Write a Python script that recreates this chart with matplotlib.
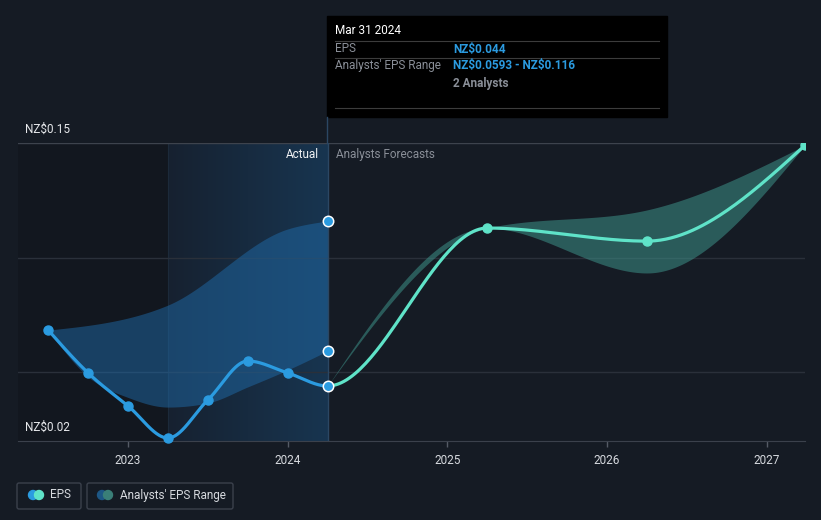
import matplotlib
matplotlib.use("Agg")
import matplotlib.pyplot as plt
from matplotlib.patches import Rectangle, FancyBboxPatch, Circle
from matplotlib.colors import LinearSegmentedColormap
import numpy as np

plt.rcParams["font.family"] = ["Roboto", "DejaVu Sans"]

# EPS (actual + forecast), x in fractional years
eps_x = [2022.5, 2022.75, 2023.0, 2023.25, 2023.5, 2023.75, 2024.0, 2024.25, 2025.25, 2026.25, 2027.24]
eps_y = [0.0684, 0.0497, 0.0353, 0.0213, 0.0379, 0.0549, 0.0497, 0.044, 0.1129, 0.1072, 0.149]
n_actual = 8

# analysts' range over the actual period
past_hi_x = [2022.5, 2023.25, 2024.0, 2024.25]
past_hi = [0.0684, 0.0793, 0.1125, 0.116]
past_lo_x = [2022.5, 2022.75, 2023.0, 2023.25, 2023.5, 2023.75, 2024.0, 2024.25]
past_lo = [0.0684, 0.048, 0.039, 0.0348, 0.0366, 0.0436, 0.051, 0.0593]

# analysts' range over the forecast period
fc_rng_x = [2024.25, 2025.25, 2026.25, 2027.24]
fc_hi = [0.044, 0.1129, 0.1208, 0.149]
fc_lo = [0.044, 0.1129, 0.0933, 0.149]

year_ticks = [2023, 2024, 2025, 2026, 2027]
y_labels = {0.15: r"NZ\$0.15", 0.02: r"NZ\$0.02"}

BG = "#151b24"
BLUE = "#2b9be0"
MINT = "#5fe3c8"


def monotone_x(xs, ys, n=60):
    # d3 curveMonotoneX
    xs = np.asarray(xs, float)
    ys = np.asarray(ys, float)
    k = len(xs)
    t = np.zeros(k)
    for i in range(1, k - 1):
        h0, h1 = xs[i] - xs[i - 1], xs[i + 1] - xs[i]
        s0, s1 = (ys[i] - ys[i - 1]) / h0, (ys[i + 1] - ys[i]) / h1
        p = (s0 * h1 + s1 * h0) / (h0 + h1)
        t[i] = (np.sign(s0) + np.sign(s1)) * min(abs(s0), abs(s1), 0.5 * abs(p))
    if k > 2:
        t[0] = (3 * (ys[1] - ys[0]) / (xs[1] - xs[0]) - t[1]) / 2
        t[-1] = (3 * (ys[-1] - ys[-2]) / (xs[-1] - xs[-2]) - t[-2]) / 2
    else:
        t[:] = (ys[1] - ys[0]) / (xs[1] - xs[0])
    out_x, out_y = [], []
    for i in range(k - 1):
        x0, x1, y0, y1 = xs[i], xs[i + 1], ys[i], ys[i + 1]
        dx = (x1 - x0) / 3
        c0, c1 = y0 + dx * t[i], y1 - dx * t[i + 1]
        u = np.linspace(0, 1, n)
        out_x.append(x0 + u * (x1 - x0))
        out_y.append((1 - u) ** 3 * y0 + 3 * (1 - u) ** 2 * u * c0 + 3 * (1 - u) * u ** 2 * c1 + u ** 3 * y1)
    return np.concatenate(out_x), np.concatenate(out_y)


fig = plt.figure(figsize=(8.21, 5.2), dpi=100, facecolor=BG)
W, H = 821, 520
ax = fig.add_axes([18 / W, 1 - 441 / H, 787 / W, 298 / H])
ax.set_facecolor(BG)
ax.set_xlim(2022.311, 2027.24)
ax.set_ylim(0.02, 0.15)

# background shading
ax.axvspan(2022.311, 2023.25, color="#12171f", zorder=0)
grad = np.linspace(0, 1, 256).reshape(1, -1)
cmap = LinearSegmentedColormap.from_list("hl", ["#162130", "#183550"])
ax.imshow(grad, extent=[2023.25, 2024.25, 0.02, 0.15], aspect="auto", cmap=cmap, zorder=0.5)
ax.axvline(2023.25, color="#1c2a3a", lw=0.8, zorder=0.6)

# grid
for v in [0.05, 0.10]:
    ax.axhline(v, color="#2a303a", lw=1, zorder=1)
ax.axhline(0.15, color="#3d434d", lw=1, zorder=1)

# bands
common_x = np.linspace(past_lo_x[0], past_lo_x[-1], 400)
hx_, hy_ = monotone_x(past_hi_x, past_hi)
lx_, ly_ = monotone_x(past_lo_x, past_lo)
bh = np.interp(common_x, hx_, hy_)
bl = np.interp(common_x, lx_, ly_)
ax.fill_between(common_x, bl, bh, color="#1f6aa8", alpha=0.5, lw=0, zorder=2)
fx, fh = monotone_x(fc_rng_x, fc_hi)
_, fl = monotone_x(fc_rng_x, fc_lo)
ax.fill_between(fx, fl, fh, color="#3d9088", alpha=0.55, lw=0, zorder=2)

# EPS line
n = 60
lx, ly = monotone_x(eps_x, eps_y, n)
split = (n_actual - 1) * n
ax.plot(lx[:split], ly[:split], color=BLUE, lw=2.3, zorder=4, solid_capstyle="round", clip_on=False)
ax.plot(lx[split - 1:], ly[split - 1:], color=MINT, lw=2.3, zorder=4, solid_capstyle="round")
ax.plot(eps_x[:n_actual - 1], eps_y[:n_actual - 1], "o", color=BLUE, ms=6.5, zorder=5, clip_on=False)
ax.plot(eps_x[n_actual:], eps_y[n_actual:], "o", color=MINT, ms=6.5, zorder=5)

# hover markers at Mar 31 2024
ax.axvline(eps_x[n_actual - 1], color="#2b4763", lw=1, zorder=3)
hx = [eps_x[n_actual - 1]] * 3
hy = [eps_y[n_actual - 1], past_hi[-1], past_lo[-1]]
ax.plot(hx, hy, "o", color=BLUE, mec="white", mew=1.1, ms=7.5, zorder=6, clip_on=False)

# axes styling
for s in ["top", "right", "left"]:
    ax.spines[s].set_visible(False)
ax.spines["bottom"].set_color("#3b414c")
ax.set_yticks([])
ax.set_xticks(year_ticks)
ax.set_xticklabels([str(y) for y in year_ticks])
ax.tick_params(axis="x", colors="#555b66", length=4, width=1, labelcolor="#d6d9de", labelsize=8.5, pad=5)

for v, lab in y_labels.items():
    ax.annotate(lab, xy=(0.009, v), xycoords=("axes fraction", "data"), xytext=(0, 5),
                textcoords="offset points", color="#e6e8eb", fontsize=8.5, va="bottom", ha="left")

ax.annotate("Actual", xy=(eps_x[n_actual - 1], 0.15), xytext=(-6, -8), textcoords="offset points",
            color="#f0f2f4", fontsize=8.5, ha="right", va="center")
ax.annotate("Analysts Forecasts", xy=(eps_x[n_actual - 1], 0.15), xytext=(6, -8), textcoords="offset points",
            color="#8a8f98", fontsize=8.5, ha="left", va="center")

# overlay for tooltip and legend (pixel coordinates)
ui = fig.add_axes([0, 0, 1, 1], zorder=10)
ui.set_xlim(0, W)
ui.set_ylim(H, 0)
ui.axis("off")
ui.patch.set_alpha(0)

ui.add_patch(Rectangle((327, 16), 340, 101, color="#000000"))
ui.plot([327, 327], [117, 143], color="#2b4763", lw=1)
for yy in [41, 58, 108]:
    ui.plot([335, 659], [yy, yy], color="#3c3c3c", lw=0.8)
ui.text(335, 31, "Mar 31 2024", color="white", fontsize=8.5, va="center")
ui.text(335, 49, "EPS", color="#8a8f98", fontsize=8.5, va="center")
ui.text(453, 49, r"NZ\$0.044", color=BLUE, fontsize=8.5, va="center", fontweight="bold")
ui.text(335, 66, "Analysts' EPS Range", color="#8a8f98", fontsize=8.5, va="center")
ui.text(453, 66, r"NZ\$0.0593 - NZ\$0.116", color=BLUE, fontsize=8.5, va="center", fontweight="bold")
ui.text(453, 83, "2 Analysts", color="#8a8f98", fontsize=8.5, va="center", fontweight="bold")

# legend
ui.add_patch(FancyBboxPatch((17, 483), 64, 26, boxstyle="round,pad=0,rounding_size=2",
                            fc="none", ec="#3b414c", lw=1))
ui.add_patch(FancyBboxPatch((87, 483), 146, 26, boxstyle="round,pad=0,rounding_size=2",
                            fc="none", ec="#3b414c", lw=1))
ui.add_patch(Circle((33, 495), 4.5, color=BLUE))
ui.add_patch(Circle((39, 495), 4.5, color=MINT))
ui.text(50, 495, "EPS", color="#d6d9de", fontsize=8.5, va="center")
ui.add_patch(Circle((102, 495), 4.5, color="#1d5785"))
ui.add_patch(Circle((108, 495), 4.5, color="#3a7f78"))
ui.text(120, 495, "Analysts' EPS Range", color="#d6d9de", fontsize=8.5, va="center")

fig.savefig("out.png", dpi=100, facecolor=BG)
